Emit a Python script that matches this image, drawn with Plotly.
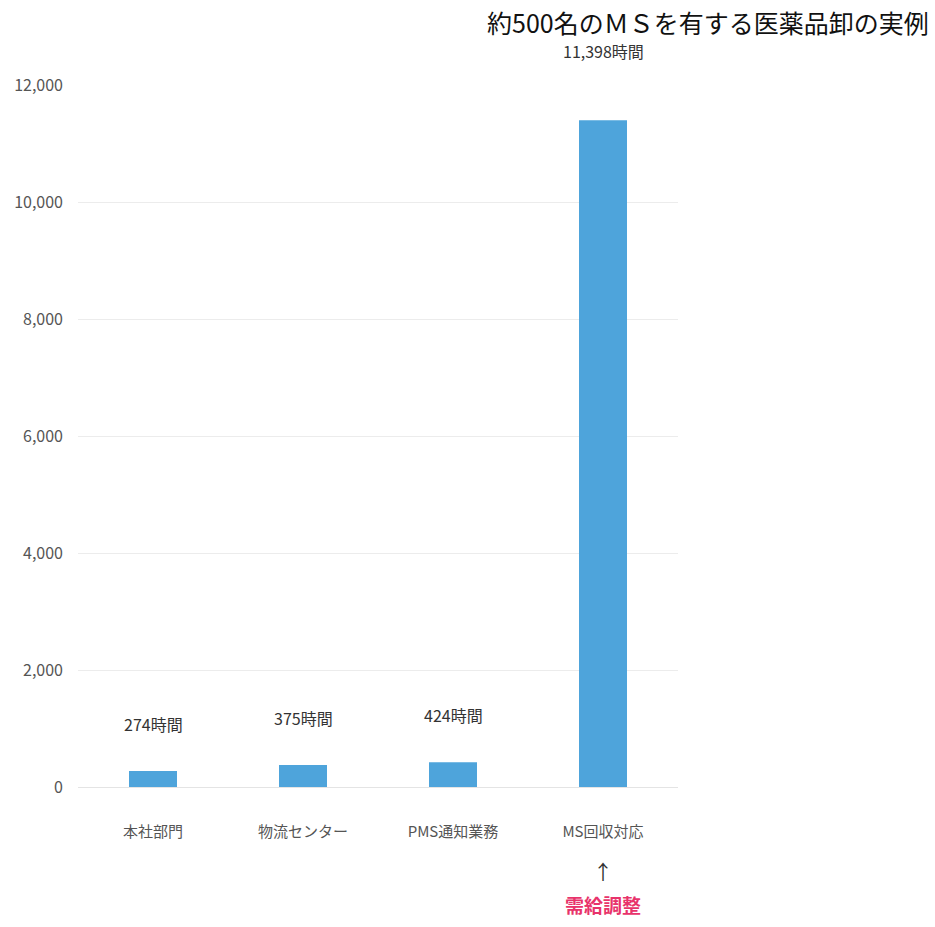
import plotly.graph_objects as go

categories = ["本社部門", "物流センター", "PMS通知業務", "MS回収対応"]
hours = [274, 375, 424, 11398]
value_labels = ["274時間", "375時間", "424時間", "11,398時間"]
tick_vals = [0, 2000, 4000, 6000, 8000, 10000, 12000]
tick_text = ["0", "2,000", "4,000", "6,000", "8,000", "10,000", "12,000"]
title_text = "約500名のＭＳを有する医薬品卸の実例"
note_arrow = "↑"
note_text = "需給調整"

FONT = "Noto Sans CJK JP"
BAR = "#4ea4db"

fig = go.Figure()
fig.add_trace(go.Bar(
    x=categories, y=hours, marker=dict(color=BAR, line=dict(width=0)),
    width=0.32, showlegend=False, hoverinfo="x+y",
))

for i, (c, v, t) in enumerate(zip(categories, hours, value_labels)):
    fig.add_annotation(x=c, y=v, text=t, showarrow=False, yanchor="bottom",
                       yshift=34 if i < 3 else 56, borderpad=0,
                       font=dict(family=FONT, size=16, color="#333333"))

fig.add_annotation(x=categories[3], y=0, text=note_arrow, showarrow=False,
                   yanchor="top", yshift=-68,
                   font=dict(family=FONT, size=20, color="#333333"))
fig.add_annotation(x=categories[3], y=0, text="<b>" + note_text + "</b>", showarrow=False,
                   yanchor="top", yshift=-102,
                   font=dict(family=FONT, size=19, color="#e8336b"))

fig.add_annotation(xref="paper", yref="paper", x=1.0, xanchor="right", xshift=252,
                   y=1, yshift=44, yanchor="bottom", borderpad=0,
                   text=title_text, showarrow=False, align="right",
                   font=dict(family=FONT, size=25, color="#111111"))

fig.update_layout(
    width=935, height=927,
    margin=dict(l=78, r=257, t=85, b=140),
    paper_bgcolor="white", plot_bgcolor="white",
    font=dict(family=FONT, size=15, color="#444444"),
    xaxis=dict(showgrid=False, showline=False, ticks="", tickfont=dict(size=15, color="#555555"),
               ticklabelstandoff=34),
    yaxis=dict(range=[0, 12000], tickvals=tick_vals, ticktext=tick_text,
               showgrid=True, gridcolor="#ececec", gridwidth=1, zeroline=True,
               zerolinecolor="#e4e4e4", zerolinewidth=1, showline=False,
               tickfont=dict(size=16, color="#555555"), ticklabelstandoff=14),
    bargap=0.68,
)

fig.write_html("out.html")
